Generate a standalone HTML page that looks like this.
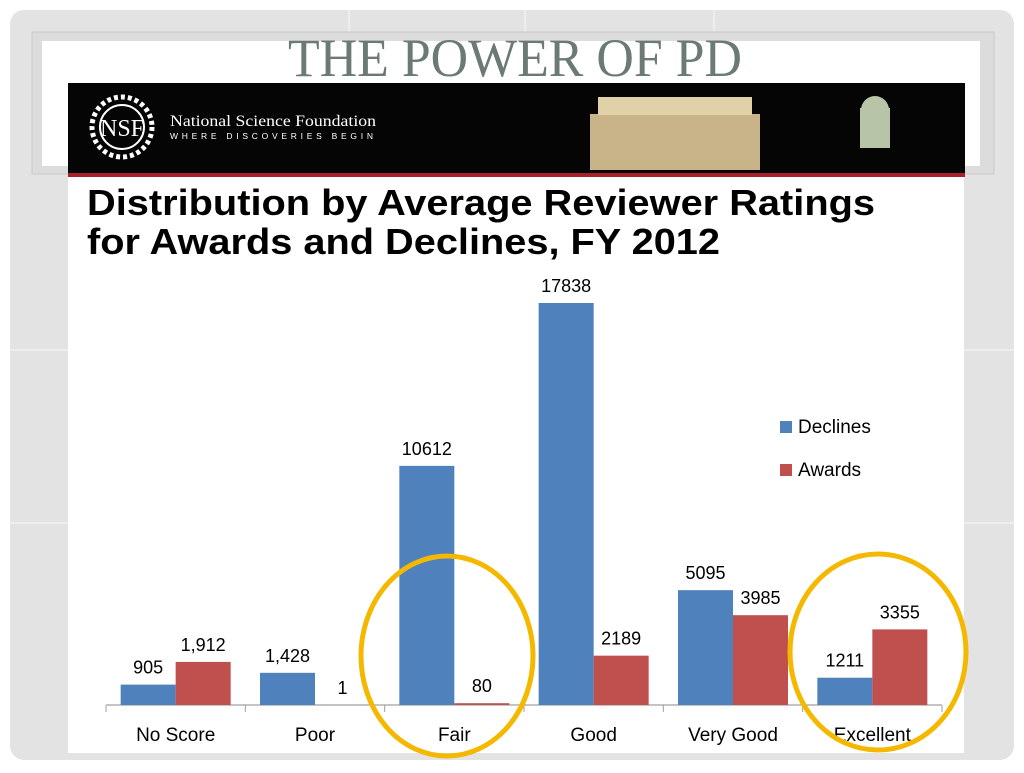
<!DOCTYPE html>
<html><head><meta charset="utf-8"><style>
body{margin:0;width:1024px;height:768px;overflow:hidden;background:#fff;font-family:"Liberation Sans",sans-serif}
</style></head><body>
<svg width="1024" height="768" viewBox="0 0 1024 768" xmlns="http://www.w3.org/2000/svg">
<rect x="10" y="10" width="1004" height="750" rx="14" fill="#e3e3e3"/>
<g stroke="#f2f2f2" stroke-width="1.5">
<line x1="10" y1="350" x2="1014" y2="350"/><line x1="10" y1="523" x2="1014" y2="523"/>
<line x1="349" y1="10" x2="349" y2="32"/><line x1="525" y1="10" x2="525" y2="32"/><line x1="714" y1="10" x2="714" y2="32"/>
</g>
<rect x="32" y="32" width="962" height="142" fill="#dcdcdc" stroke="#c8c8c8"/>
<rect x="42" y="41" width="938" height="125" fill="#fff"/>
<text x="515" y="76" text-anchor="middle" font-family="Liberation Serif, serif" font-size="54" fill="#6b7a72" textLength="454" lengthAdjust="spacingAndGlyphs">THE POWER OF PD</text>
<rect x="68" y="174" width="896" height="579" fill="#fff"/>
<rect x="68" y="83" width="897" height="91" fill="#050505"/>
<rect x="68" y="173" width="897" height="4" fill="#a8202c"/>
<circle cx="122" cy="127" r="30" fill="none" stroke="#fff" stroke-width="5" stroke-dasharray="4 3"/>
<circle cx="122" cy="127" r="22" fill="none" stroke="#fff" stroke-width="2"/>
<text x="122" y="136" text-anchor="middle" font-family="Liberation Serif, serif" font-size="24" fill="#fff">NSF</text>
<text x="170" y="126" font-family="Liberation Serif, serif" font-size="16" fill="#fff" textLength="206" lengthAdjust="spacingAndGlyphs">National Science Foundation</text>
<text x="170" y="139" font-size="8.5" fill="#fff" letter-spacing="3" textLength="206">WHERE DISCOVERIES BEGIN</text>
<rect x="590" y="114" width="170" height="56" fill="#c9b48a"/>
<rect x="598" y="97" width="154" height="18" fill="#e0d1a8"/>
<rect x="860" y="108" width="30" height="40" fill="#b8c4a8"/>
<ellipse cx="875" cy="110" rx="14" ry="14" fill="#b8c4a8"/>
<text x="87" y="215" font-size="36" font-weight="bold" fill="#000" textLength="788" lengthAdjust="spacingAndGlyphs">Distribution by Average Reviewer Ratings</text>
<text x="87" y="254" font-size="36" font-weight="bold" fill="#000" textLength="633" lengthAdjust="spacingAndGlyphs">for Awards and Declines, FY 2012</text>
<g id="chart"></g>
<rect x="780" y="421" width="12" height="12" fill="#4f81bd"/>
<text x="798" y="433" font-size="19" fill="#000">Declines</text>
<rect x="780" y="464" width="12" height="12" fill="#c0504d"/>
<text x="798" y="476" font-size="19" fill="#000">Awards</text>
<ellipse cx="447" cy="656" rx="86" ry="100" fill="none" stroke="#f5b800" stroke-width="5"/>
<ellipse cx="878" cy="652" rx="88" ry="98" fill="none" stroke="#f5b800" stroke-width="5"/>
</svg>
<script>
const categories=["No Score","Poor","Fair","Good","Very Good","Excellent"];
const declines=[905,1428,10612,17838,5095,1211];
const awards=[1912,1,80,2189,3985,3355];
const declineLabels=["905","1,428","10612","17838","5095","1211"];
const awardLabels=["1,912","1","80","2189","3985","3355"];
const NS="http://www.w3.org/2000/svg";
const g=document.getElementById('chart');
const x0=106,x1=942,base=705,scale=402/17838;
const cw=(x1-x0)/categories.length,bw=55;
function yv(v){return base-v*scale;}
function cx(i){return x0+cw*(i+0.5);}
function mk(tag,attrs){const e=document.createElementNS(NS,tag);for(const k in attrs)e.setAttribute(k,attrs[k]);g.appendChild(e);return e;}
const ax=mk('line',{x1:x0,y1:base,x2:x1,y2:base,stroke:'#a0a0a0','stroke-width':1.2});


for(let i=0;i<=categories.length;i++){
  const t=mk('line',{x1:x0+cw*i,y1:base,x2:x0+cw*i,y2:base+7,stroke:'#a0a0a0'});
  
  
}
categories.forEach((c,i)=>{
  const c0=cx(i);
  const hb=declines[i]*scale,hr=awards[i]*scale;
  const b=mk('rect',{x:c0-bw,y:yv(declines[i]),width:bw,height:hb,fill:'#4f81bd'});
  
  
  const r=mk('rect',{x:c0,y:yv(awards[i]),width:bw,height:Math.max(hr,0),fill:'#c0504d'});
  
  
  const lb=mk('text',{x:c0-bw/2,y:yv(declines[i])-11,'text-anchor':'middle','font-size':18,fill:'#000'});
  lb.textContent=declineLabels[i];
  
  
  const lr=mk('text',{x:c0+bw/2,y:yv(awards[i])-11,'text-anchor':'middle','font-size':18,fill:'#000'});
  lr.textContent=awardLabels[i];
  
  
  const cl=mk('text',{x:c0,y:741,'text-anchor':'middle','font-size':19,fill:'#000'});
  cl.textContent=c;
  
  
});
</script>
</body></html>
